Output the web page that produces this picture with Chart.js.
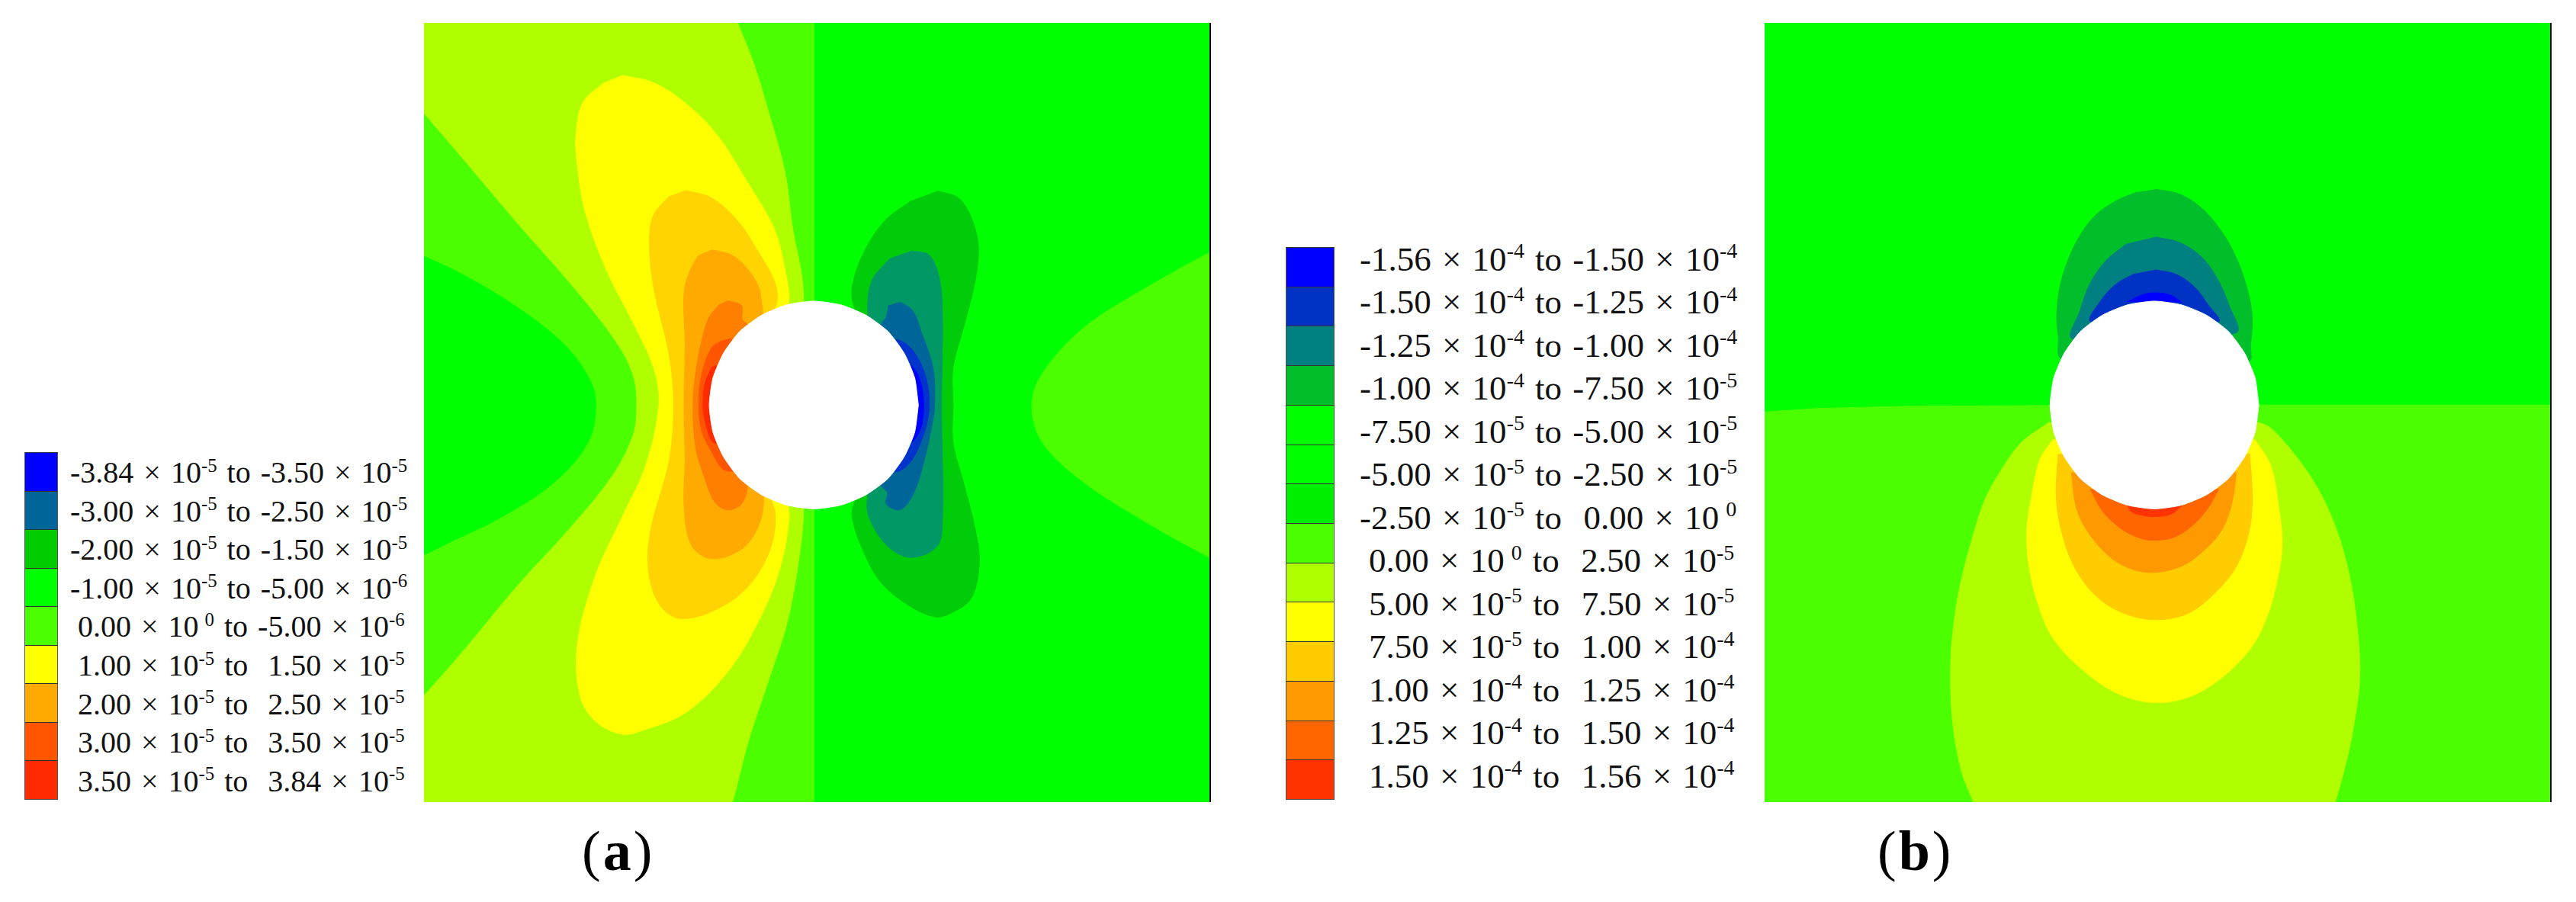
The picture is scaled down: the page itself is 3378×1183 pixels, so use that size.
<!DOCTYPE html>
<html>
<head>
<meta charset="utf-8">
<script src="https://cdn.jsdelivr.net/npm/chart.js@4"></script>
<style>
  html, body { margin: 0; padding: 0; background: #fff; width: 3378px; height: 1183px; overflow: hidden; }
  canvas { position: absolute; }
  .swatch { position: absolute; box-sizing: border-box; border: 1px solid #555; border-top-color: #333; }
  .row { position: absolute; font-family: "Liberation Serif", serif; color: #111; white-space: pre; line-height: 1; }
  .row sup { font-size: 62%; line-height: 0; vertical-align: baseline; position: relative; top: -0.58em; }
  .tag { position: absolute; font-family: "Liberation Serif", serif; font-size: 74px; color: #000; line-height: 1; letter-spacing: 3px; }
</style>
</head>
<body>
<canvas id="panelA" width="1033" height="1022" style="left:556px;top:30px"></canvas>
<canvas id="panelB" width="1033" height="1022" style="left:2314px;top:30px"></canvas>
<div id="legends"></div>
<div class="tag" style="left:763px;top:1079px">(<b>a</b>)</div>
<div class="tag" style="left:2462px;top:1079px">(<b>b</b>)</div>

<script>
// contour outlines, in digitiser units (y grows downward)
const aBase = [[-50, -50], [1600, -50], [1600, 1450], [-50, 1450]];
const aLeftHalf = [[-50, -50], [765, -50], [765, 1450], [-50, 1450]];
const aLime = [[-50, -30], [592, -30], [620, 41], [650, 110], [680, 200], [710, 300], [725, 400], [742, 480], [746, 540],
  [746, 870], [740, 950], [715, 1080], [680, 1180], [640, 1290], [610, 1395], [585, 1460], [-50, 1460],
  [-40, 1272], [23, 1210], [100, 1130], [200, 1020], [300, 920], [380, 830], [420, 760], [428, 705], [420, 650],
  [385, 590], [300, 492], [200, 388], [100, 280], [23, 198], [-40, 135]];
const aInnerLeft = [[-60, 420], [23, 447], [100, 480], [200, 535], [290, 600], [338, 660], [350, 705], [335, 770],
  [270, 840], [170, 900], [80, 940], [23, 965], [-60, 995]];
const aYellow = [[400, 132], [460, 145], [520, 180], [580, 235], [640, 320], [690, 400], [710, 470], [718, 520], [712, 560],
  [712, 860], [718, 900], [700, 990], [660, 1080], [600, 1170], [520, 1240], [440, 1270], [400, 1277],
  [350, 1255], [320, 1210], [315, 1120], [350, 1000], [400, 900], [445, 810], [470, 705], [460, 640], [420, 560],
  [370, 470], [330, 370], [315, 290], [312, 240], [325, 180], [365, 145]];
const aGold = [[520, 332], [570, 345], [620, 385], [660, 440], [690, 490], [695, 525], [680, 560], [680, 850],
  [692, 900], [680, 960], [640, 1020], [580, 1060], [510, 1076], [470, 1050], [450, 990], [455, 920], [490, 800],
  [498, 705], [490, 620], [460, 500], [452, 420], [460, 375], [490, 342]];
const aOrange = [[570, 435], [610, 445], [640, 470], [660, 500], [665, 525], [670, 560], [670, 850], [665, 900],
  [640, 945], [600, 968], [560, 970], [530, 945], [518, 880], [520, 800], [518, 705], [520, 600], [518, 510],
  [530, 470], [545, 445]];
const aDeepOrange = [[600, 524], [627, 532], [629, 557], [639, 566], [639, 844], [627, 877], [600, 887],
  [576, 873], [557, 831], [540, 778], [535, 703], [540, 650], [552, 592], [566, 552], [586, 530]];
const aRedOrange = [[605, 589], [620, 600], [620, 810], [610, 820], [590, 815], [571, 787], [552, 751], [546, 703], [552, 650],
  [571, 605], [590, 593]];
const aRed = [[578, 636], [590, 650], [590, 760], [578, 771], [569, 765], [556, 725], [554, 703], [558, 667], [571, 639]];
const aRightLobe = [[1600, 400], [1518, 440], [1400, 500], [1280, 570], [1200, 650], [1180, 705], [1200, 770], [1280, 840],
  [1400, 910], [1518, 970], [1600, 1010]];
const aDarkGreen = [[1000, 333], [1040, 345], [1065, 380], [1078, 430], [1072, 490], [1050, 570], [1030, 640], [1030, 705],
  [1030, 770], [1050, 840], [1072, 920], [1080, 980], [1065, 1040], [1030, 1065], [995, 1073], [940, 1050], [890, 1010],
  [855, 950], [838, 900], [842, 875], [860, 850], [860, 560], [842, 535], [838, 500], [860, 440], [900, 385], [950, 350]];
const aTeal = [[950, 437], [985, 445], [1005, 490], [1010, 560], [1008, 705], [1010, 900], [1000, 950], [950, 970], [905, 950],
  [870, 900], [868, 860], [880, 845], [880, 565], [868, 550], [875, 490], [910, 450]];
const aSteel = [[929, 526], [953, 541], [970, 579], [992, 641], [995, 703], [992, 729], [973, 809], [953, 862], [929, 887],
  [903, 877], [905, 857], [893, 844], [893, 566], [903, 552], [907, 532]];
const aCobalt = [[922, 590], [944, 601], [966, 628], [980, 663], [985, 703], [980, 738], [963, 782], [944, 809], [922, 821],
  [915, 810], [915, 600]];
const aBlue = [[951, 636], [966, 658], [974, 703], [968, 747], [951, 769], [945, 750], [945, 660]];
const aHole = [[964, 705], [957, 752], [937, 795], [906, 833], [864.5, 861], [816.5, 879], [765, 885.5], [713.5, 879], [665.5, 861],
  [624, 833], [593, 795], [573, 752], [566, 705], [573, 658], [593, 615], [624, 577], [665.5, 549], [713.5, 531], [765, 524.5],
  [816.5, 531], [864.5, 549], [906, 577], [937, 615], [957, 658], [964, 705]];

const bBase = [[-50, -50], [1600, -50], [1600, 1450], [-50, 1450]];
const bLowerHalf = [[-50, 720], [20, 717], [120, 711], [300, 707], [763, 705], [1518, 705], [1600, 705], [1600, 1450], [-50, 1450]];
const bDarkGreen = [[765, 330], [810, 338], [850, 360], [885, 395], [915, 440], [938, 495], [950, 550], [947, 600], [942, 630],
  [588, 625], [580, 585], [577, 550], [583, 500], [600, 450], [625, 405], [655, 372], [695, 348], [730, 335]];
const bTeal = [[765, 413], [810, 422], [850, 445], [880, 480], [905, 530], [918, 580], [608, 590], [622, 540], [640, 495],
  [670, 455], [710, 425]];
const bCobalt = [[765, 470], [805, 478], [840, 500], [865, 530], [885, 560], [643, 560], [660, 525], [690, 495], [725, 477]];
const bBlue = [[711, 526], [742, 513], [768, 510], [794, 514], [817, 527]];
const bLime = [[563, 735], [510, 770], [470, 820], [440, 870], [415, 940], [395, 1010], [383, 1070], [375, 1150], [378, 1250],
  [395, 1340], [418, 1395], [440, 1460], [1085, 1460], [1108, 1395], [1125, 1340], [1140, 1280], [1155, 1180], [1150, 1090],
  [1135, 1000], [1110, 920], [1075, 850], [1030, 790], [985, 745], [962, 735]];
const bYellow = [[570, 765], [545, 800], [530, 860], [520, 925], [525, 990], [545, 1060], [570, 1110], [620, 1160], [690, 1205],
  [763, 1222], [830, 1212], [890, 1180], [945, 1130], [975, 1080], [995, 1020], [1007, 950], [1000, 880], [985, 810], [955, 765]];
const bGold = [[580, 790], [576, 860], [585, 920], [610, 985], [650, 1035], [700, 1065], [763, 1078], [825, 1068], [875, 1035],
  [920, 985], [945, 920], [950, 860], [945, 790]];
const bOrange = [[605, 822], [615, 885], [640, 930], [680, 970], [720, 990], [763, 996], [815, 985], [855, 960], [890, 925],
  [910, 880], [920, 822]];
const bDeepOrange = [[641, 851], [665, 890], [700, 920], [735, 936], [763, 940], [800, 935], [835, 915], [865, 885], [886, 851]];
const bRed = [[711, 879], [721, 891], [742, 897], [762, 899], [794, 895], [817, 879]];
const bHole = [[962.5, 705], [955.5, 752], [935.5, 795], [904.5, 833], [863, 861], [815, 879], [763.5, 885.5], [712, 879], [664, 861],
  [622.5, 833], [591.5, 795], [571.5, 752], [564.5, 705], [571.5, 658], [591.5, 615], [622.5, 577], [664, 549], [712, 531], [763.5, 524.5],
  [815, 531], [863, 549], [904.5, 577], [935.5, 615], [955.5, 658], [962.5, 705]];

const legendColorsA = ["#0000ff", "#006699", "#00cc00", "#00ff00", "#4cff00", "#ffff00", "#ffaa00", "#ff5500", "#ff2a00"];
const legendLabelsA = [
  ["-3.84", "-5", "-3.50", "-5"], ["-3.00", "-5", "-2.50", "-5"], ["-2.00", "-5", "-1.50", "-5"],
  ["-1.00", "-5", "-5.00", "-6"], ["0.00", "0", "-5.00", "-6"], ["1.00", "-5", " 1.50", "-5"],
  ["2.00", "-5", " 2.50", "-5"], ["3.00", "-5", " 3.50", "-5"], ["3.50", "-5", " 3.84", "-5"]
];
const legendColorsB = ["#0000ff", "#0033c4", "#008080", "#00bf2a", "#00ff00", "#00ff00", "#00f000", "#4cff00", "#b0ff00",
  "#ffff00", "#ffcc00", "#ff9900", "#ff6600", "#ff3300"];
const legendLabelsB = [
  ["-1.56", "-4", "-1.50", "-4"], ["-1.50", "-4", "-1.25", "-4"], ["-1.25", "-4", "-1.00", "-4"],
  ["-1.00", "-4", "-7.50", "-5"], ["-7.50", "-5", "-5.00", "-5"], ["-5.00", "-5", "-2.50", "-5"],
  ["-2.50", "-5", " 0.00", "0"], ["0.00", "0", " 2.50", "-5"], ["5.00", "-5", " 7.50", "-5"],
  ["7.50", "-5", " 1.00", "-4"], ["1.00", "-4", " 1.25", "-4"], ["1.25", "-4", " 1.50", "-4"], ["1.50", "-4", " 1.56", "-4"]
];

function region(points, color, tension) {
  return {
    data: points.map(([x, y]) => ({ x, y })),
    showLine: true,
    fill: "shape",
    backgroundColor: color,
    borderColor: color,
    borderWidth: 1,
    pointRadius: 0,
    tension: tension === undefined ? 0.35 : tension,
  };
}

function renderPanel(id, layers, xMin) {
  // chart.js paints dataset 0 last, so the list goes in bottom-up and gets flipped here
  new Chart(document.getElementById(id), {
    type: "scatter",
    data: { datasets: layers.slice().reverse() },
    options: {
      responsive: false,
      animation: false,
      events: [],
      layout: { padding: { right: 3 } },
      elements: { line: { capBezierPoints: false } },
      plugins: { legend: { display: false }, tooltip: { enabled: false } },
      scales: {
        x: { type: "linear", min: xMin, max: 1518, display: false },
        y: {
          type: "linear", reverse: true, min: 41, max: 1395, position: "right",
          grid: { display: false, drawTicks: false },
          ticks: { display: false },
          border: { display: true, color: "#000", width: 3 },
        },
      },
    },
  });
}

function renderLegend(colors, labels, box) {
  const host = document.getElementById("legends");
  const pitch = (box.bottom - box.top) / colors.length;
  colors.forEach((color, i) => {
    const s = document.createElement("div");
    s.className = "swatch";
    s.style.cssText = `left:${box.left}px;top:${box.top + i * pitch}px;width:${box.width}px;height:${pitch + 1}px;background:${color}`;
    host.appendChild(s);
  });
  labels.forEach((label, i) => {
    const [a, ae, b, be] = label;
    const r = document.createElement("div");
    r.className = "row";
    const x = a.startsWith("-") ? box.textLeft : box.textLeft + box.indent;
    const mid = box.firstRow + i * box.rowPitch;
    r.style.cssText = `left:${x}px;top:${mid - box.font * 0.5}px;font-size:${box.font}px;word-spacing:${box.spacing}px`;
    const sup = (e) => (e === "0" ? `&thinsp;<sup>${e}</sup>` : `<sup>${e}</sup>`);
    r.innerHTML = `${a} × 10${sup(ae)} to ${b} × 10${sup(be)}`;
    host.appendChild(r);
  });
}

renderPanel("panelA", [
  region(aBase, "#00ff00", 0),
  region(aLeftHalf, "#4cff00", 0),
  region(aLime, "#b0ff00"),
  region(aInnerLeft, "#00ff00"),
  region(aYellow, "#ffff00"),
  region(aGold, "#ffd400"),
  region(aOrange, "#ffaa00"),
  region(aDeepOrange, "#ff7f00"),
  region(aRedOrange, "#ff5500"),
  region(aRed, "#ff2a00"),
  region(aRightLobe, "#4cff00"),
  region(aDarkGreen, "#00cc0a"),
  region(aTeal, "#009966"),
  region(aSteel, "#006699"),
  region(aCobalt, "#0033cc"),
  region(aBlue, "#0000ff"),
  region(aHole, "#ffffff", 0.2),
], 23);

renderPanel("panelB", [
  region(bBase, "#00ff00", 0),
  region(bLowerHalf, "#4cff00", 0),
  region(bDarkGreen, "#00bf2a"),
  region(bTeal, "#008080"),
  region(bCobalt, "#0033c4"),
  region(bBlue, "#0000ff"),
  region(bLime, "#b0ff00"),
  region(bYellow, "#ffff00"),
  region(bGold, "#ffcc00"),
  region(bOrange, "#ff9900"),
  region(bDeepOrange, "#ff6600"),
  region(bRed, "#ff3300"),
  region(bHole, "#ffffff", 0.2),
], 20);

renderLegend(legendColorsA, legendLabelsA, { left: 32, width: 44, top: 593, bottom: 1048, textLeft: 92, indent: 10, font: 40, spacing: 3, firstRow: 620, rowPitch: 50.6 });
renderLegend(legendColorsB, legendLabelsB, { left: 1686, width: 64, top: 324, bottom: 1048, textLeft: 1783, indent: 12, font: 45, spacing: 3, firstRow: 340, rowPitch: 56.5 });
</script>
</body>
</html>
